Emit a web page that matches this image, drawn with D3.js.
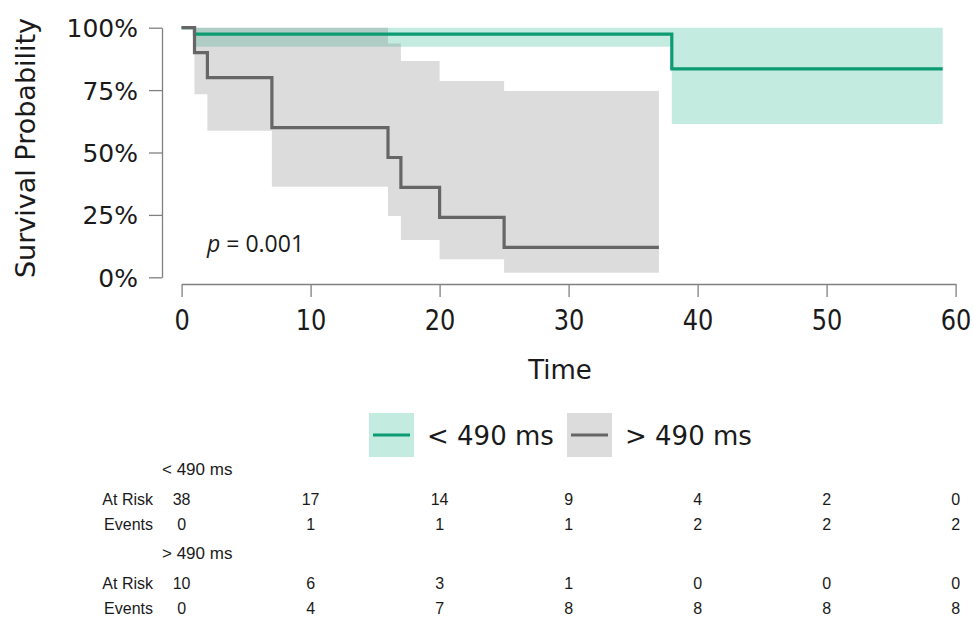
<!DOCTYPE html>
<html>
<head>
<meta charset="utf-8">
<script src="https://cdn.jsdelivr.net/npm/d3@7"></script>
<style>
  html, body { margin: 0; padding: 0; background: #ffffff; }
  svg { display: block; }
</style>
</head>
<body>
<svg id="chart" width="973" height="617"></svg>
<script>
// ---- data ----
const groupNames = ["< 490 ms", "> 490 ms"];
const xTicks = [0, 10, 20, 30, 40, 50, 60];
const yTicks = [0, 0.25, 0.5, 0.75, 1];

// group "< 490 ms" (step function: value holds from the given time onwards)
const lowTime  = [0, 1, 38, 59];
const lowSurv  = [1, 0.974, 0.835, 0.835];
const lowUpper = [1, 1, 1, 1];
const lowLower = [1, 0.924, 0.614, 0.614];

// group "> 490 ms"
const highTime  = [0, 1, 2, 7, 16, 17, 20, 25, 37];
const highSurv  = [1, 0.9, 0.8, 0.6, 0.48, 0.36, 0.24, 0.12, 0.12];
const highUpper = [1, 1, 1, 1, 0.937, 0.867, 0.786, 0.746, 0.746];
const highLower = [1, 0.733, 0.587, 0.363, 0.246, 0.149, 0.072, 0.018, 0.018];

// risk table
const lowAtRisk  = [38, 17, 14, 9, 4, 2, 0];
const lowEvents  = [0, 1, 1, 1, 2, 2, 2];
const highAtRisk = [10, 6, 3, 1, 0, 0, 0];
const highEvents = [0, 4, 7, 8, 8, 8, 8];

const pLabel = "0.001";

// ---- styles ----
const greenLine = "#0c9b73";
const greenFill = "#c3ebe0";
const grayLine = "#666666";
const grayFillColor = "#808080";
const grayFillOpacity = 0.276;
const axisColor = "#808080";
const textColor = "#1a1a1a";

const svg = d3.select("#chart");

const x = d3.scaleLinear().domain([0, 60]).range([181.6, 955.6]);
const y = d3.scaleLinear().domain([0, 1]).range([277.3, 27.7]);

function rows(t, s, u, l) { return t.map((d, i) => ({ t: d, s: s[i], u: u[i], l: l[i] })); }
const lowData = rows(lowTime, lowSurv, lowUpper, lowLower);
const highData = rows(highTime, highSurv, highUpper, highLower);

const area = d3.area().curve(d3.curveStepAfter)
  .x(d => x(d.t)).y0(d => y(d.l)).y1(d => y(d.u));
const line = d3.line().curve(d3.curveStepAfter)
  .x(d => x(d.t)).y(d => y(d.s));

// bands
svg.append("path").datum(lowData).attr("d", area).attr("fill", greenFill);
svg.append("path").datum(highData).attr("d", area)
  .attr("fill", grayFillColor).attr("fill-opacity", grayFillOpacity);
// lines
svg.append("path").datum(lowData).attr("d", line)
  .attr("fill", "none").attr("stroke", greenLine).attr("stroke-width", 3.2);
svg.append("path").datum(highData).attr("d", line)
  .attr("fill", "none").attr("stroke", grayLine).attr("stroke-width", 3.2);

// y axis
const yAxis = svg.append("g").attr("transform", "translate(162,0)")
  .call(d3.axisLeft(y).tickValues(yTicks).tickFormat(d3.format(".0%"))
    .tickSize(13).tickSizeOuter(0).tickPadding(11));
yAxis.select(".domain").attr("stroke", axisColor).attr("stroke-width", 1.3);
yAxis.selectAll(".tick line").attr("stroke", axisColor).attr("stroke-width", 1.3);
yAxis.selectAll(".tick text")
  .attr("font-family", "DejaVu Sans").attr("font-size", 25)
  .attr("fill", textColor).attr("dy", "0.36em");

// x axis
const xAxis = svg.append("g").attr("transform", "translate(0,284)")
  .call(d3.axisBottom(x).tickValues(xTicks).tickFormat(d3.format("d"))
    .tickSize(13).tickSizeOuter(0).tickPadding(6));
xAxis.select(".domain").attr("stroke", axisColor).attr("stroke-width", 1.3);
xAxis.selectAll(".tick line").attr("stroke", axisColor).attr("stroke-width", 1.3);
xAxis.selectAll(".tick text")
  .attr("font-family", "DejaVu Sans").attr("font-size", 28)
  .attr("fill", textColor).attr("dy", null).attr("y", 46).attr("x", 0)
  .attr("transform", "scale(0.86,1)");

// axis titles
svg.append("text")
  .attr("transform", "translate(35,148) rotate(-90)")
  .attr("text-anchor", "middle")
  .attr("font-family", "DejaVu Sans").attr("font-size", 27)
  .attr("fill", textColor)
  .text("Survival Probability");

svg.append("text")
  .attr("x", 560).attr("y", 379)
  .attr("text-anchor", "middle")
  .attr("font-family", "DejaVu Sans").attr("font-size", 26)
  .attr("fill", textColor)
  .text("Time");

// p value
const pText = svg.append("text")
  .attr("x", 207).attr("y", 252)
  .attr("font-family", "Open Sans").attr("font-size", 23)
  .attr("fill", textColor);
pText.append("tspan").attr("font-style", "italic").text("p");
pText.append("tspan").text(" = " + pLabel);

// legend
const legend = svg.append("g");
const legendItems = [
  { name: groupNames[0], x0: 369, fill: greenFill, stroke: greenLine, textX: 427 },
  { name: groupNames[1], x0: 567, fill: "#dcdcdc", stroke: grayLine, textX: 625 }
];
legendItems.forEach(it => {
  legend.append("rect").attr("x", it.x0).attr("y", 413).attr("width", 45).attr("height", 44)
    .attr("fill", it.fill);
  legend.append("line").attr("x1", it.x0 + 4).attr("x2", it.x0 + 41)
    .attr("y1", 435).attr("y2", 435)
    .attr("stroke", it.stroke).attr("stroke-width", 3);
  legend.append("text").attr("x", it.textX).attr("y", 445)
    .attr("font-family", "DejaVu Sans").attr("font-size", 26)
    .attr("fill", textColor).text(it.name);
});

// risk table
const table = svg.append("g")
  .attr("font-family", "Liberation Sans, Arial, sans-serif")
  .attr("font-size", 16).attr("fill", textColor);

const tableGroups = [
  { name: groupNames[0], header: 475, riskY: 505, eventY: 530, risk: lowAtRisk, events: lowEvents },
  { name: groupNames[1], header: 559, riskY: 589, eventY: 614, risk: highAtRisk, events: highEvents }
];
tableGroups.forEach(g => {
  table.append("text").attr("x", 162).attr("y", g.header).attr("font-size", 17).text(g.name);
  table.append("text").attr("x", 153).attr("y", g.riskY).attr("text-anchor", "end").text("At Risk");
  table.append("text").attr("x", 153).attr("y", g.eventY).attr("text-anchor", "end").text("Events");
  table.selectAll(null).data(g.risk).enter().append("text")
    .attr("x", (d, i) => x(xTicks[i])).attr("y", g.riskY)
    .attr("text-anchor", "middle").text(d => d);
  table.selectAll(null).data(g.events).enter().append("text")
    .attr("x", (d, i) => x(xTicks[i])).attr("y", g.eventY)
    .attr("text-anchor", "middle").text(d => d);
});
</script>
</body>
</html>
